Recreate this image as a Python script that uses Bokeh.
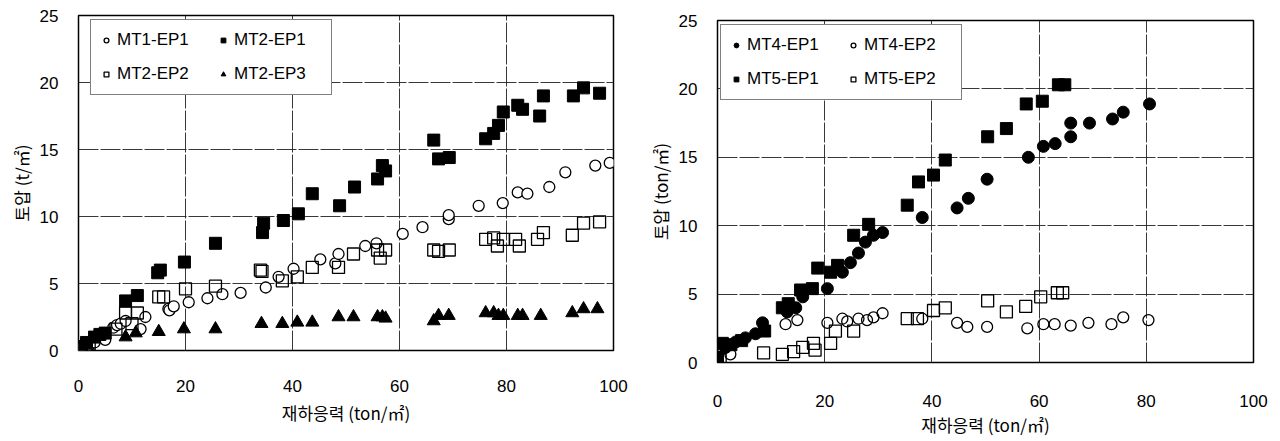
from bokeh.plotting import figure
from bokeh.layouts import row, column
from bokeh.models import Range1d, Legend, LegendItem, FixedTicker
from bokeh.embed import file_html
from bokeh.resources import INLINE

# ---------------- Left chart data ----------------
mt1_ep1_x = [0.5, 2, 3, 5, 6.5, 7.2, 7.9, 8.8, 11.6, 12.5, 16.8, 17.0, 17.8, 20.6, 24.1, 26.9, 30.3, 35.0, 37.4, 40.2, 45.2, 48.0, 48.6, 53.6, 55.7, 60.6, 64.3, 69.2, 69.2, 74.8, 79.3, 82.1, 83.9, 88.0, 91.0, 96.6, 99.3]
mt1_ep1_y = [0.2, 0.4, 0.6, 0.8, 1.7, 1.9, 2.0, 2.2, 1.6, 2.5, 3.1, 3.0, 3.3, 3.6, 3.9, 4.2, 4.3, 4.7, 5.5, 6.1, 6.8, 6.5, 7.2, 7.8, 8.0, 8.7, 9.2, 9.8, 10.1, 10.8, 11.0, 11.8, 11.7, 12.2, 13.3, 13.8, 14.0]

mt2_ep1_x = [0, 0.5, 1.5, 3, 4, 5, 8.8, 11.0, 14.8, 15.3, 19.8, 25.6, 34.4, 34.6, 38.3, 41.1, 43.7, 48.8, 51.6, 55.9, 56.8, 57.4, 66.4, 67.3, 69.3, 76.1, 77.6, 78.5, 79.4, 82.1, 83.0, 86.2, 86.9, 92.5, 94.4, 97.4]
mt2_ep1_y = [0.2, 0.3, 0.6, 1.0, 1.2, 1.3, 3.7, 4.1, 5.8, 6.0, 6.6, 8.0, 8.8, 9.5, 9.7, 10.2, 11.7, 10.8, 12.2, 12.8, 13.8, 13.4, 15.7, 14.3, 14.4, 15.8, 16.2, 16.8, 17.8, 18.3, 18.0, 17.5, 19.0, 19.0, 19.6, 19.2]

mt2_ep2_x = [0.5, 2, 7, 8.8, 10, 11.0, 15.0, 15.9, 20.0, 25.6, 34.0, 34.3, 38.1, 40.9, 43.7, 48.6, 51.4, 55.9, 56.4, 57.4, 66.4, 67.3, 69.3, 76.1, 77.6, 78.3, 79.4, 81.7, 82.4, 85.8, 86.9, 92.3, 94.4, 97.4]
mt2_ep2_y = [0.2, 0.5, 1.6, 2.8, 2.0, 2.8, 4.0, 4.0, 4.6, 4.8, 6.0, 5.9, 5.2, 5.5, 6.2, 6.2, 7.2, 7.5, 6.9, 7.5, 7.5, 7.4, 7.5, 8.3, 8.4, 7.8, 8.3, 8.3, 7.8, 8.3, 8.8, 8.6, 9.5, 9.6]

mt2_ep3_x = [8.8, 10.7, 15.0, 19.7, 25.6, 34.2, 38.1, 40.9, 43.7, 48.6, 51.4, 55.9, 56.8, 57.4, 66.4, 67.3, 69.2, 76.1, 77.6, 78.5, 79.4, 82.1, 83.0, 86.4, 92.3, 94.4, 97.0]
mt2_ep3_y = [1.0, 1.3, 1.4, 1.6, 1.6, 2.0, 2.0, 2.1, 2.1, 2.5, 2.5, 2.5, 2.5, 2.4, 2.2, 2.6, 2.6, 2.8, 2.8, 2.6, 2.6, 2.6, 2.6, 2.6, 2.8, 3.1, 3.1]

# ---------------- Right chart data ----------------
mt4_ep1_x = [0, 1.5, 3.4, 5.2, 7.1, 8.4, 13.0, 14.6, 15.9, 20.5, 23.3, 24.8, 26.3, 27.6, 29.1, 30.8, 38.2, 44.7, 46.8, 50.3, 58.0, 60.8, 63.0, 65.9, 65.9, 69.4, 73.7, 75.7, 80.6]
mt4_ep1_y = [0.1, 1.1, 1.5, 1.8, 2.1, 2.9, 3.7, 4.0, 4.8, 5.4, 6.6, 7.3, 8.0, 8.8, 9.3, 9.5, 10.6, 11.3, 12.0, 13.4, 15.0, 15.8, 16.0, 16.5, 17.5, 17.5, 17.8, 18.3, 18.9]

mt4_ep2_x = [2.4, 12.7, 14.9, 20.5, 23.3, 24.2, 26.3, 27.9, 29.1, 30.8, 38.2, 44.7, 46.6, 50.3, 57.8, 60.8, 62.9, 65.9, 69.2, 73.5, 75.7, 80.4]
mt4_ep2_y = [0.6, 2.8, 3.1, 2.9, 3.2, 3.0, 3.2, 3.1, 3.3, 3.6, 3.2, 2.9, 2.6, 2.6, 2.5, 2.8, 2.8, 2.7, 2.9, 2.8, 3.3, 3.1]

mt5_ep1_x = [0, 0.9, 2.5, 4.5, 8.8, 12.1, 13.2, 15.5, 17.7, 18.7, 21.1, 22.4, 25.4, 28.2, 35.4, 37.5, 40.3, 42.5, 50.4, 53.9, 57.6, 60.6, 63.6, 64.8]
mt5_ep1_y = [0.4, 1.4, 1.3, 1.6, 2.3, 4.0, 4.3, 5.3, 5.4, 6.9, 6.6, 7.1, 9.3, 10.1, 11.5, 13.2, 13.7, 14.8, 16.5, 17.1, 18.9, 19.1, 20.3, 20.3]

mt5_ep2_x = [0.5, 8.6, 12.1, 14.2, 15.9, 17.9, 18.2, 21.1, 22.0, 25.4, 35.4, 37.3, 40.3, 42.5, 50.4, 53.9, 57.5, 60.3, 63.4, 64.4]
mt5_ep2_y = [0.2, 0.7, 0.6, 0.8, 1.1, 1.4, 0.9, 1.4, 2.3, 2.3, 3.2, 3.2, 3.8, 4.0, 4.5, 3.7, 4.1, 4.8, 5.1, 5.1]

x_ticks = [0, 20, 40, 60, 80, 100]
y_ticks = [0, 5, 10, 15, 20, 25]

TICK_FONT = "Liberation Sans"
KR_FONT = "Noto Sans CJK KR"


def make_fig(width, ml, mr, mt, mb, xlabel, ylabel, xstand, xlab_stand, ystand, ylab_stand):
    p = figure(width=width, height=441, output_backend="svg", toolbar_location=None,
               x_range=Range1d(0, 100), y_range=Range1d(0, 25),
               min_border_left=ml, min_border_right=mr, min_border_top=mt, min_border_bottom=mb)
    p.outline_line_color = "black"
    p.outline_line_width = 1.5
    for ax in (p.xaxis[0], p.yaxis[0]):
        ax.axis_line_color = None
        ax.major_tick_line_color = None
        ax.minor_tick_line_color = None
        ax.major_label_text_font = TICK_FONT
        ax.major_label_text_font_size = "17px"
        ax.major_label_text_color = "black"
        ax.axis_label_text_font = KR_FONT
        ax.axis_label_text_font_style = "normal"
        ax.axis_label_text_font_size = "17px"
        ax.axis_label_text_color = "black"
    p.xaxis[0].ticker = FixedTicker(ticks=x_ticks)
    p.yaxis[0].ticker = FixedTicker(ticks=y_ticks)
    p.xaxis[0].axis_label = xlabel
    p.yaxis[0].axis_label = ylabel
    p.xaxis[0].major_label_standoff = xstand
    p.xaxis[0].axis_label_standoff = xlab_stand
    p.yaxis[0].major_label_standoff = ystand
    p.yaxis[0].axis_label_standoff = ylab_stand
    p.xgrid.ticker = FixedTicker(ticks=[20, 40, 60, 80])
    p.ygrid.ticker = FixedTicker(ticks=[5, 10, 15, 20])
    for g in (p.xgrid[0], p.ygrid[0]):
        g.grid_line_color = "#222222"
        g.grid_line_width = 1
        g.grid_line_dash = "20 2"
        g.grid_line_alpha = 0.9
    return p


def style_legend(leg, loc):
    leg.ncols = 2
    leg.location = loc
    leg.margin = 0
    leg.border_line_color = "black"
    leg.border_line_width = 1
    leg.background_fill_color = "white"
    leg.background_fill_alpha = 1
    leg.label_text_font = TICK_FONT
    leg.label_text_font_size = "17px"
    leg.label_text_color = "black"
    leg.glyph_width = 12
    leg.glyph_height = 12
    leg.label_standoff = 5
    leg.padding = 9
    leg.spacing = 12
    leg.label_height = 22
    leg.label_width = 88


# ---------------- Left figure ----------------
p1 = make_fig(640, 78, 27, 15, 91, "재하응력 (ton/㎡)", "토압 (t/㎡)", 23, 5, 14, 3)
r1 = p1.scatter(mt1_ep1_x, mt1_ep1_y, marker="circle", size=11, fill_color="white", line_color="black", line_width=1.3)
r2 = p1.scatter(mt2_ep1_x, mt2_ep1_y, marker="square", size=12, fill_color="black", line_color="black")
r3 = p1.scatter(mt2_ep2_x, mt2_ep2_y, marker="square", size=12, fill_color="white", line_color="black", line_width=1.3, fill_alpha=0)
r4 = p1.scatter(mt2_ep3_x, mt2_ep3_y, marker="triangle", size=13, fill_color="black", line_color="black")
leg1 = Legend(items=[LegendItem(label="MT1-EP1", renderers=[r1]),
                     LegendItem(label="MT2-EP2", renderers=[r3]),
                     LegendItem(label="MT2-EP1", renderers=[r2]),
                     LegendItem(label="MT2-EP3", renderers=[r4])])
style_legend(leg1, (12, 255))
p1.add_layout(leg1, "center")

# ---------------- Right figure ----------------
p2 = make_fig(640, 77, 27, 20, 79, "재하응력 (ton/㎡)", "토압 (ton/㎡)", 26, 2, 14, 3)
s1 = p2.scatter(mt4_ep1_x, mt4_ep1_y, marker="circle", size=12, fill_color="black", line_color="black")
s2 = p2.scatter(mt4_ep2_x, mt4_ep2_y, marker="circle", size=11, fill_color="white", line_color="black", line_width=1.3, fill_alpha=0)
s3 = p2.scatter(mt5_ep1_x, mt5_ep1_y, marker="square", size=12, fill_color="black", line_color="black")
s4 = p2.scatter(mt5_ep2_x, mt5_ep2_y, marker="square", size=12, fill_color="white", line_color="black", line_width=1.3, fill_alpha=0)
leg2 = Legend(items=[LegendItem(label="MT4-EP1", renderers=[s1]),
                     LegendItem(label="MT5-EP1", renderers=[s3]),
                     LegendItem(label="MT4-EP2", renderers=[s2]),
                     LegendItem(label="MT5-EP2", renderers=[s4])])
style_legend(leg2, (3, 262))
p2.add_layout(leg2, "center")

layout = row(column(p1), column(p2))
open("out.html", "w").write(file_html(layout, INLINE))
